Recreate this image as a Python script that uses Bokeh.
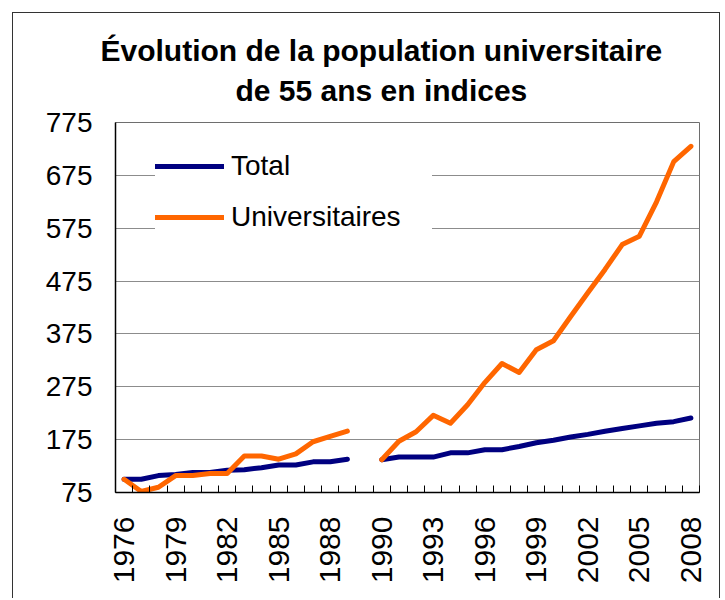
import math
import numpy as np
from bokeh.plotting import figure
from bokeh.models import (Range1d, FixedTicker, CustomJSTickFormatter, Title,
                          Legend, LegendItem, ColumnDataSource)
from bokeh.embed import file_html
from bokeh.resources import INLINE

# ---- data ----
years = ["1976", "1977", "1978", "1979", "1980", "1981", "1982", "1983", "1984",
         "1985", "1986", "1987", "1988", "1989", "",
         "1990", "1991", "1992", "1993", "1994", "1995", "1996", "1997", "1998",
         "1999", "2000", "2001", "2002", "2003", "2004", "2005", "2006", "2007", "2008"]

total = [100, 100, 107, 109, 113, 113, 117, 118, 122, 127, 127, 133, 133, 138, None,
         137, 142, 142, 142, 150, 150, 156, 156, 162, 169, 174, 180, 185, 191, 196,
         201, 206, 209, 216]

universitaires = [100, 77, 85, 107, 107, 111, 111, 144, 144, 138, 148, 171, 181, 191, None,
                  137, 172, 190, 221, 206, 241, 283, 319, 302, 345, 362, 408, 453, 497,
                  544, 560, 625, 701, 730]

y_ticks = [75, 175, 275, 375, 475, 575, 675, 775]
label_every = 3

title_lines = ["Évolution de la population universitaire", "de 55 ans en indices"]
series_names = ["Total", "Universitaires"]

# ---- build ----
n = len(years)
idx = np.arange(n)
src = ColumnDataSource(dict(
    x=idx,
    total=np.array([np.nan if v is None else v for v in total], dtype=float),
    univ=np.array([np.nan if v is None else v for v in universitaires], dtype=float),
))

FONT = "Liberation Sans"

p = figure(width=708, height=586, output_backend="svg", toolbar_location=None,
           x_range=Range1d(-0.5, n - 0.5), y_range=Range1d(y_ticks[0], y_ticks[-1]),
           min_border_left=102, min_border_right=22, min_border_top=109,
           min_border_bottom=107)
p.styles = {"margin-left": "12px", "margin-top": "12px",
            "border-left": "1px solid #333333", "border-top": "1px solid #333333",
            "border-right": "1px solid #333333"}
p.background_fill_color = "white"
p.border_fill_color = "white"
p.outline_line_color = "#6e6e6e"
p.outline_line_width = 1

# x axis: label every 3rd category, tick marks between categories
major = list(range(0, n, label_every))
minor = [i - 0.5 for i in range(n + 1)]
p.xaxis.ticker = FixedTicker(ticks=major, minor_ticks=minor)
p.xaxis.formatter = CustomJSTickFormatter(args=dict(labels=years),
                                          code="const i = Math.round(tick); return labels[i] ?? '';")
p.xaxis.major_label_orientation = math.pi / 2
p.xaxis.major_label_text_font = FONT
p.xaxis.major_label_text_font_size = "30px"
p.xaxis.major_label_text_color = "black"
p.xaxis.major_label_standoff = 24
p.xaxis.major_tick_in = 0
p.xaxis.major_tick_out = 0
p.xaxis.minor_tick_in = 7
p.xaxis.minor_tick_out = 0
p.xaxis.minor_tick_line_color = "black"
p.xaxis.axis_line_color = "black"
p.xaxis.axis_line_width = 1.5

p.yaxis.ticker = FixedTicker(ticks=y_ticks)
p.yaxis.major_label_text_font = FONT
p.yaxis.major_label_text_font_size = "28px"
p.yaxis.major_label_text_color = "black"
p.yaxis.major_label_standoff = 23
p.yaxis.major_tick_in = 0
p.yaxis.major_tick_out = 0
p.yaxis.minor_tick_line_color = None
p.yaxis.axis_line_color = "black"
p.yaxis.axis_line_width = 1.5

p.xgrid.grid_line_color = None
p.ygrid.grid_line_color = "#8c8c8c"
p.ygrid.grid_line_width = 1

r1 = p.line("x", "total", source=src, line_color="#000080", line_width=5,
            line_join="round", line_cap="round")
r2 = p.line("x", "univ", source=src, line_color="#FF6600", line_width=5,
            line_join="round", line_cap="round")

legend = Legend(items=[LegendItem(label=series_names[0], renderers=[r1]),
                       LegendItem(label=series_names[1], renderers=[r2])],
                location=(40, 259), orientation="vertical",
                label_text_font=FONT, label_text_font_size="28px",
                label_text_color="black",
                glyph_width=69, glyph_height=32, label_height=32, label_width=201,
                label_standoff=7, spacing=19, padding=0, margin=0,
                border_line_color=None, background_fill_color="white",
                background_fill_alpha=1.0)
p.add_layout(legend)

# titles: spacer nearest the frame, then line 2, then line 1
spacer = Title(text=" ", text_font_size="10px", standoff=0)
t2 = Title(text=title_lines[1], align="left", offset=120, vertical_align="bottom",
           text_font=FONT, text_font_size="30px", text_font_style="bold",
           text_color="black", standoff=5)
t1 = Title(text=title_lines[0], align="left", offset=-15, vertical_align="bottom",
           text_font=FONT, text_font_size="30px", text_font_style="bold",
           text_color="black", standoff=5)
p.add_layout(spacer, "above")
p.add_layout(t2, "above")
p.add_layout(t1, "above")

open("out.html", "w").write(file_html(p, INLINE))
